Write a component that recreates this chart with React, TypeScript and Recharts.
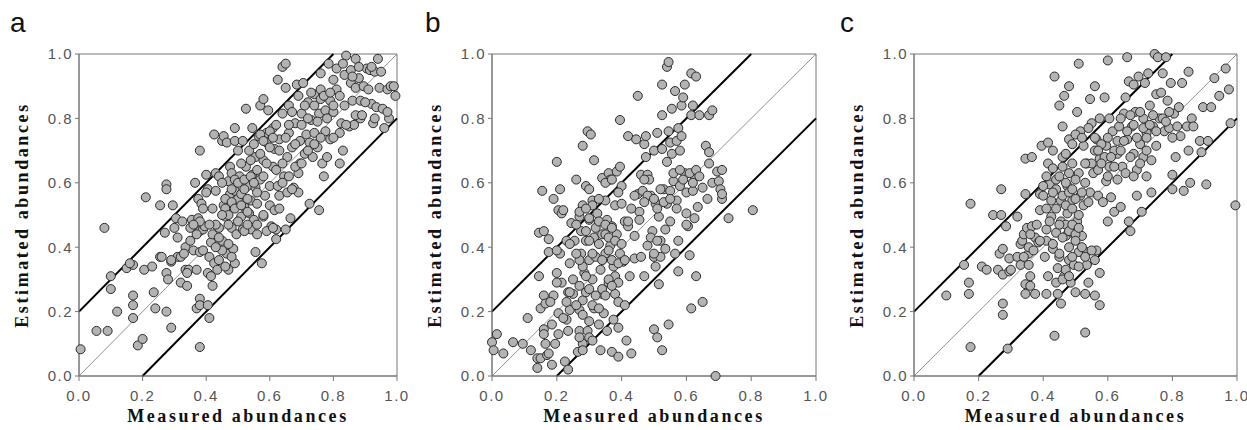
import { ScatterChart, Scatter, XAxis, YAxis, ZAxis, ReferenceLine, ReferenceArea } from "recharts";

const TICKS = [0, 0.2, 0.4, 0.6, 0.8, 1.0];
const X_TITLE = "Measured abundances";
const Y_TITLE = "Estimated abundances";

// [measured, estimated]
const panelA: [number, number][] = [
  [0.005, 0.083], [0.055, 0.14], [0.09, 0.14], [0.08, 0.46], [0.10, 0.31], [0.10, 0.27], [0.12, 0.20],
  [0.15, 0.335], [0.17, 0.345], [0.17, 0.25], [0.17, 0.22], [0.17, 0.18], [0.185, 0.095], [0.20, 0.115],
  [0.205, 0.33], [0.21, 0.555], [0.235, 0.26], [0.24, 0.21], [0.255, 0.37], [0.255, 0.53], [0.27, 0.445],
  [0.275, 0.32], [0.275, 0.20], [0.275, 0.595], [0.275, 0.58], [0.28, 0.30], [0.29, 0.15], [0.29, 0.355],
  [0.295, 0.53], [0.30, 0.46], [0.305, 0.49], [0.31, 0.37], [0.325, 0.48], [0.32, 0.29], [0.32, 0.37],
  [0.335, 0.40], [0.335, 0.33], [0.34, 0.28], [0.35, 0.46], [0.355, 0.485], [0.345, 0.33], [0.36, 0.39],
  [0.365, 0.60], [0.37, 0.21], [0.37, 0.33], [0.375, 0.49], [0.38, 0.09], [0.38, 0.24], [0.38, 0.22],
  [0.38, 0.45], [0.38, 0.385], [0.38, 0.70], [0.375, 0.55], [0.385, 0.535], [0.39, 0.455], [0.39, 0.39],
  [0.395, 0.465], [0.40, 0.625], [0.405, 0.58], [0.405, 0.22], [0.41, 0.18], [0.405, 0.32], [0.41, 0.37],
  [0.415, 0.415], [0.415, 0.31], [0.42, 0.28], [0.42, 0.44], [0.425, 0.75], [0.425, 0.35], [0.43, 0.575],
  [0.43, 0.63], [0.435, 0.33], [0.44, 0.46], [0.45, 0.73], [0.45, 0.42], [0.455, 0.745], [0.455, 0.53],
  [0.46, 0.495], [0.465, 0.725], [0.465, 0.38], [0.47, 0.33], [0.47, 0.605], [0.475, 0.565], [0.475, 0.65],
  [0.48, 0.63], [0.48, 0.46], [0.485, 0.525], [0.485, 0.395], [0.49, 0.35], [0.49, 0.77], [0.49, 0.73],
  [0.49, 0.575], [0.495, 0.44], [0.50, 0.70], [0.50, 0.55], [0.505, 0.62], [0.51, 0.495], [0.51, 0.565],
  [0.515, 0.73], [0.515, 0.455], [0.52, 0.525], [0.525, 0.83], [0.525, 0.65], [0.53, 0.59], [0.535, 0.505],
  [0.535, 0.70], [0.54, 0.545], [0.54, 0.455], [0.545, 0.77], [0.545, 0.625], [0.55, 0.485], [0.555, 0.68],
  [0.555, 0.585], [0.555, 0.385], [0.56, 0.535], [0.56, 0.44], [0.565, 0.745], [0.57, 0.84], [0.57, 0.61],
  [0.575, 0.35], [0.58, 0.495], [0.58, 0.86], [0.58, 0.67], [0.585, 0.56], [0.59, 0.755], [0.59, 0.725],
  [0.595, 0.825], [0.60, 0.53], [0.60, 0.59], [0.605, 0.465], [0.61, 0.77], [0.61, 0.65], [0.615, 0.705],
  [0.615, 0.515], [0.62, 0.455], [0.62, 0.425], [0.625, 0.59], [0.625, 0.92], [0.63, 0.56], [0.63, 0.735],
  [0.64, 0.96], [0.64, 0.815], [0.645, 0.62], [0.65, 0.455], [0.65, 0.97], [0.65, 0.895], [0.655, 0.68],
  [0.655, 0.57], [0.66, 0.755], [0.66, 0.84], [0.665, 0.49], [0.67, 0.71], [0.675, 0.585], [0.68, 0.785],
  [0.685, 0.905], [0.69, 0.87], [0.69, 0.57], [0.695, 0.66], [0.695, 0.73], [0.70, 0.815], [0.705, 0.91],
  [0.71, 0.69], [0.715, 0.75], [0.72, 0.85], [0.725, 0.725], [0.725, 0.535], [0.73, 0.795], [0.735, 0.68],
  [0.74, 0.875], [0.74, 0.755], [0.75, 0.71], [0.755, 0.815], [0.755, 0.515], [0.76, 0.94], [0.76, 0.89],
  [0.765, 0.66], [0.77, 0.62], [0.775, 0.76], [0.775, 0.825], [0.785, 0.97], [0.79, 0.855], [0.79, 0.735],
  [0.80, 0.92], [0.80, 0.82], [0.81, 0.89], [0.81, 0.955], [0.82, 0.755], [0.82, 0.66], [0.825, 0.785],
  [0.83, 0.70], [0.835, 0.935], [0.835, 0.84], [0.84, 0.995], [0.85, 0.775], [0.855, 0.95], [0.855, 0.91],
  [0.86, 0.855], [0.865, 0.78], [0.87, 0.985], [0.87, 0.895], [0.88, 0.925], [0.885, 0.855], [0.885, 0.80],
  [0.895, 0.90], [0.905, 0.955], [0.91, 0.89], [0.915, 0.95], [0.92, 0.845], [0.925, 0.785], [0.93, 0.945],
  [0.935, 0.835], [0.94, 0.985], [0.945, 0.895], [0.95, 0.945], [0.955, 0.83], [0.96, 0.77], [0.97, 0.89],
  [0.975, 0.80], [0.98, 0.90], [0.995, 0.87],
  [0.44, 0.62], [0.45, 0.60], [0.46, 0.55], [0.46, 0.52], [0.47, 0.50], [0.47, 0.47], [0.48, 0.54],
  [0.48, 0.58], [0.49, 0.61], [0.49, 0.52], [0.50, 0.48], [0.50, 0.60], [0.51, 0.53], [0.51, 0.66],
  [0.52, 0.58], [0.52, 0.61], [0.53, 0.55], [0.53, 0.51], [0.54, 0.62], [0.54, 0.67], [0.55, 0.60],
  [0.55, 0.72], [0.56, 0.64], [0.56, 0.57], [0.57, 0.69], [0.57, 0.75], [0.58, 0.73], [0.58, 0.62],
  [0.59, 0.66], [0.60, 0.71], [0.60, 0.76], [0.61, 0.74], [0.62, 0.78], [0.62, 0.64], [0.63, 0.70],
  [0.64, 0.66], [0.65, 0.74], [0.66, 0.78], [0.67, 0.82], [0.68, 0.72], [0.69, 0.63], [0.70, 0.78],
  [0.71, 0.84], [0.72, 0.80], [0.73, 0.88], [0.74, 0.84], [0.75, 0.79], [0.76, 0.86], [0.77, 0.87],
  [0.78, 0.80], [0.79, 0.88], [0.80, 0.84], [0.82, 0.87], [0.83, 0.97], [0.86, 0.93], [0.88, 0.96],
  [0.90, 0.85], [0.92, 0.96], [0.43, 0.47], [0.44, 0.43], [0.45, 0.50], [0.45, 0.39], [0.46, 0.34],
  [0.47, 0.41], [0.48, 0.37], [0.44, 0.36], [0.43, 0.40], [0.42, 0.52], [0.41, 0.47], [0.40, 0.57],
  [0.39, 0.52], [0.38, 0.48], [0.37, 0.44], [0.36, 0.47], [0.35, 0.42], [0.33, 0.38], [0.34, 0.32],
  [0.31, 0.43], [0.29, 0.36], [0.26, 0.37], [0.23, 0.34], [0.16, 0.35], [0.52, 0.45], [0.53, 0.47],
  [0.56, 0.47], [0.58, 0.50], [0.59, 0.45], [0.61, 0.46], [0.63, 0.52], [0.64, 0.60], [0.66, 0.62],
  [0.67, 0.58], [0.68, 0.65], [0.70, 0.66], [0.72, 0.70], [0.74, 0.72], [0.76, 0.74], [0.78, 0.68],
  [0.80, 0.74], [0.84, 0.78], [0.87, 0.81], [0.89, 0.81], [0.93, 0.80], [0.97, 0.82], [0.99, 0.90],
];

const panelB: [number, number][] = [
  [0.0, 0.105], [0.005, 0.08], [0.015, 0.13], [0.035, 0.07], [0.065, 0.105], [0.095, 0.10], [0.11, 0.18],
  [0.12, 0.08], [0.14, 0.055], [0.14, 0.025], [0.15, 0.055], [0.145, 0.445], [0.145, 0.31], [0.15, 0.21],
  [0.155, 0.575], [0.16, 0.45], [0.16, 0.25], [0.16, 0.145], [0.16, 0.13], [0.165, 0.10], [0.165, 0.225],
  [0.17, 0.065], [0.175, 0.425], [0.175, 0.385], [0.175, 0.07], [0.185, 0.035], [0.185, 0.16], [0.19, 0.55],
  [0.19, 0.25], [0.195, 0.10], [0.20, 0.32], [0.20, 0.665], [0.205, 0.195], [0.205, 0.13], [0.205, 0.515],
  [0.21, 0.58], [0.21, 0.38], [0.215, 0.29], [0.215, 0.505], [0.22, 0.515], [0.225, 0.045], [0.23, 0.42],
  [0.23, 0.175], [0.235, 0.26], [0.235, 0.02], [0.235, 0.14], [0.24, 0.35], [0.24, 0.205], [0.245, 0.475],
  [0.25, 0.255], [0.255, 0.42], [0.26, 0.61], [0.265, 0.075], [0.27, 0.14], [0.27, 0.28], [0.27, 0.495],
  [0.27, 0.205], [0.275, 0.38], [0.275, 0.45], [0.28, 0.10], [0.28, 0.235], [0.28, 0.715], [0.28, 0.53],
  [0.285, 0.32], [0.29, 0.42], [0.29, 0.26], [0.29, 0.59], [0.295, 0.76], [0.295, 0.14], [0.30, 0.36],
  [0.30, 0.485], [0.30, 0.12], [0.305, 0.75], [0.31, 0.545], [0.31, 0.30], [0.31, 0.11], [0.315, 0.21],
  [0.315, 0.67], [0.315, 0.43], [0.32, 0.37], [0.325, 0.505], [0.33, 0.16], [0.335, 0.33], [0.335, 0.08],
  [0.34, 0.615], [0.34, 0.44], [0.34, 0.255], [0.345, 0.195], [0.35, 0.545], [0.35, 0.38], [0.355, 0.485],
  [0.355, 0.14], [0.36, 0.63], [0.36, 0.29], [0.365, 0.405], [0.365, 0.61], [0.37, 0.465], [0.37, 0.075],
  [0.375, 0.175], [0.375, 0.34], [0.38, 0.53], [0.38, 0.255], [0.385, 0.44], [0.385, 0.635], [0.39, 0.06],
  [0.39, 0.23], [0.39, 0.15], [0.395, 0.795], [0.395, 0.38], [0.395, 0.65], [0.40, 0.59], [0.40, 0.535],
  [0.405, 0.355], [0.41, 0.22], [0.41, 0.48], [0.415, 0.11], [0.42, 0.745], [0.42, 0.465], [0.425, 0.31],
  [0.43, 0.07], [0.44, 0.435], [0.44, 0.365], [0.445, 0.735], [0.45, 0.87], [0.45, 0.565], [0.455, 0.51],
  [0.455, 0.485], [0.46, 0.37], [0.46, 0.625], [0.465, 0.575], [0.47, 0.31], [0.47, 0.72], [0.475, 0.745],
  [0.475, 0.68], [0.48, 0.405], [0.48, 0.625], [0.485, 0.61], [0.49, 0.56], [0.495, 0.45], [0.50, 0.145],
  [0.50, 0.37], [0.50, 0.70], [0.505, 0.535], [0.505, 0.34], [0.51, 0.755], [0.51, 0.12], [0.515, 0.285],
  [0.515, 0.495], [0.52, 0.37], [0.52, 0.42], [0.525, 0.81], [0.525, 0.905], [0.525, 0.08], [0.525, 0.705],
  [0.53, 0.58], [0.535, 0.455], [0.535, 0.395], [0.54, 0.665], [0.54, 0.535], [0.54, 0.96], [0.545, 0.975],
  [0.545, 0.76], [0.545, 0.16], [0.55, 0.725], [0.55, 0.575], [0.55, 0.48], [0.555, 0.83], [0.555, 0.69],
  [0.56, 0.605], [0.565, 0.885], [0.565, 0.38], [0.57, 0.73], [0.57, 0.545], [0.575, 0.77], [0.575, 0.42],
  [0.575, 0.325], [0.58, 0.70], [0.58, 0.59], [0.585, 0.745], [0.585, 0.84], [0.59, 0.865], [0.595, 0.63],
  [0.595, 0.905], [0.60, 0.505], [0.60, 0.57], [0.605, 0.465], [0.61, 0.375], [0.615, 0.94], [0.615, 0.81],
  [0.615, 0.21], [0.62, 0.575], [0.62, 0.84], [0.625, 0.49], [0.625, 0.62], [0.63, 0.93], [0.63, 0.31],
  [0.635, 0.525], [0.64, 0.81], [0.65, 0.585], [0.65, 0.23], [0.66, 0.715], [0.665, 0.55], [0.67, 0.81],
  [0.67, 0.695], [0.67, 0.66], [0.68, 0.60], [0.68, 0.825], [0.69, 0.0], [0.695, 0.635], [0.70, 0.605],
  [0.705, 0.58], [0.71, 0.55], [0.71, 0.64], [0.71, 0.565], [0.73, 0.49], [0.805, 0.515],
  [0.29, 0.45], [0.30, 0.42], [0.31, 0.38], [0.32, 0.46], [0.33, 0.48], [0.33, 0.41], [0.34, 0.36],
  [0.35, 0.44], [0.35, 0.47], [0.36, 0.43], [0.36, 0.39], [0.37, 0.46], [0.37, 0.36], [0.38, 0.42],
  [0.38, 0.31], [0.39, 0.29], [0.36, 0.30], [0.34, 0.27], [0.32, 0.25], [0.30, 0.27], [0.29, 0.31],
  [0.28, 0.34], [0.27, 0.36], [0.26, 0.38], [0.25, 0.30], [0.24, 0.26], [0.23, 0.23], [0.22, 0.18],
  [0.27, 0.12], [0.28, 0.08], [0.31, 0.22], [0.33, 0.21], [0.35, 0.25], [0.37, 0.28], [0.39, 0.35],
  [0.41, 0.36], [0.40, 0.41], [0.42, 0.48], [0.43, 0.52], [0.30, 0.58], [0.31, 0.53], [0.33, 0.55],
  [0.35, 0.60], [0.37, 0.61], [0.39, 0.57], [0.44, 0.56], [0.47, 0.61], [0.48, 0.56], [0.50, 0.55],
  [0.51, 0.52], [0.52, 0.58], [0.53, 0.54], [0.55, 0.55], [0.56, 0.63], [0.58, 0.64], [0.59, 0.61],
  [0.61, 0.63], [0.62, 0.60], [0.63, 0.64], [0.64, 0.62], [0.57, 0.52], [0.60, 0.47], [0.49, 0.43],
  [0.50, 0.38], [0.51, 0.42], [0.47, 0.54], [0.26, 0.22], [0.28, 0.19], [0.30, 0.17], [0.20, 0.29],
  [0.18, 0.23], [0.20, 0.39], [0.24, 0.41], [0.26, 0.47], [0.27, 0.51], [0.29, 0.52], [0.30, 0.49],
];

const panelC: [number, number][] = [
  [0.10, 0.25], [0.155, 0.345], [0.175, 0.09], [0.17, 0.29], [0.17, 0.255], [0.175, 0.535], [0.21, 0.34],
  [0.225, 0.33], [0.245, 0.50], [0.26, 0.33], [0.265, 0.38], [0.27, 0.50], [0.27, 0.58], [0.275, 0.315],
  [0.275, 0.225], [0.275, 0.19], [0.275, 0.395], [0.285, 0.465], [0.29, 0.085], [0.295, 0.365],
  [0.295, 0.325], [0.30, 0.33], [0.32, 0.495], [0.32, 0.37], [0.33, 0.41], [0.33, 0.345], [0.335, 0.42],
  [0.34, 0.44], [0.345, 0.675], [0.345, 0.285], [0.345, 0.255], [0.345, 0.565], [0.35, 0.46], [0.355, 0.38],
  [0.355, 0.40], [0.355, 0.345], [0.36, 0.31], [0.36, 0.28], [0.365, 0.68], [0.365, 0.465], [0.375, 0.255],
  [0.375, 0.43], [0.385, 0.415], [0.39, 0.565], [0.39, 0.515], [0.395, 0.715], [0.40, 0.56], [0.405, 0.37],
  [0.41, 0.255], [0.41, 0.455], [0.41, 0.42], [0.415, 0.725], [0.415, 0.66], [0.415, 0.31], [0.42, 0.595],
  [0.425, 0.545], [0.425, 0.495], [0.43, 0.70], [0.43, 0.395], [0.43, 0.645], [0.435, 0.93], [0.435, 0.125],
  [0.44, 0.29], [0.44, 0.61], [0.44, 0.445], [0.445, 0.335], [0.445, 0.255], [0.45, 0.37], [0.45, 0.84],
  [0.455, 0.225], [0.455, 0.545], [0.455, 0.48], [0.46, 0.68], [0.46, 0.775], [0.465, 0.87], [0.465, 0.31],
  [0.47, 0.435], [0.475, 0.59], [0.475, 0.505], [0.48, 0.36], [0.48, 0.90], [0.48, 0.735], [0.485, 0.29],
  [0.49, 0.66], [0.49, 0.545], [0.495, 0.44], [0.495, 0.345], [0.50, 0.26], [0.505, 0.82], [0.505, 0.48],
  [0.51, 0.385], [0.51, 0.97], [0.51, 0.63], [0.515, 0.76], [0.515, 0.56], [0.52, 0.435], [0.525, 0.715],
  [0.525, 0.53], [0.53, 0.255], [0.53, 0.135], [0.535, 0.345], [0.535, 0.66], [0.535, 0.385], [0.545, 0.86],
  [0.545, 0.57], [0.55, 0.785], [0.555, 0.63], [0.56, 0.25], [0.56, 0.90], [0.565, 0.39], [0.565, 0.735],
  [0.57, 0.56], [0.575, 0.80], [0.575, 0.32], [0.575, 0.22], [0.575, 0.675], [0.585, 0.54], [0.59, 0.865],
  [0.595, 0.715], [0.595, 0.605], [0.60, 0.98], [0.60, 0.48], [0.605, 0.80], [0.605, 0.65], [0.61, 0.555],
  [0.615, 0.76], [0.62, 0.51], [0.63, 0.69], [0.63, 0.61], [0.635, 0.775], [0.64, 0.525], [0.645, 0.65],
  [0.65, 0.815], [0.655, 0.865], [0.655, 0.63], [0.66, 0.99], [0.66, 0.735], [0.665, 0.915], [0.665, 0.48],
  [0.67, 0.45], [0.675, 0.775], [0.68, 0.69], [0.68, 0.905], [0.685, 0.82], [0.69, 0.64], [0.69, 0.56],
  [0.695, 0.93], [0.70, 0.72], [0.705, 0.51], [0.71, 0.80], [0.71, 0.68], [0.715, 0.91], [0.72, 0.62],
  [0.72, 0.755], [0.725, 0.94], [0.73, 0.84], [0.735, 0.67], [0.735, 0.57], [0.74, 0.775], [0.745, 1.0],
  [0.75, 0.875], [0.75, 0.715], [0.755, 0.99], [0.76, 0.80], [0.765, 0.88], [0.77, 0.94], [0.775, 0.76],
  [0.78, 0.99], [0.785, 0.855], [0.79, 0.77], [0.795, 0.91], [0.80, 0.58], [0.80, 0.625], [0.805, 0.815],
  [0.81, 0.68], [0.815, 0.775], [0.82, 0.835], [0.825, 0.745], [0.83, 0.91], [0.835, 0.575], [0.845, 0.775],
  [0.85, 0.945], [0.85, 0.70], [0.855, 0.60], [0.86, 0.80], [0.865, 0.775], [0.885, 0.73], [0.89, 0.695],
  [0.895, 0.835], [0.905, 0.595], [0.91, 0.73], [0.92, 0.835], [0.93, 0.925], [0.945, 0.87], [0.965, 0.955],
  [0.975, 0.89], [0.98, 0.785], [0.995, 0.53],
  [0.44, 0.58], [0.45, 0.62], [0.46, 0.56], [0.47, 0.60], [0.47, 0.53], [0.48, 0.57], [0.48, 0.63],
  [0.49, 0.52], [0.49, 0.58], [0.50, 0.61], [0.50, 0.55], [0.51, 0.50], [0.52, 0.57], [0.53, 0.60],
  [0.54, 0.54], [0.55, 0.66], [0.56, 0.70], [0.57, 0.64], [0.58, 0.72], [0.59, 0.68], [0.60, 0.74],
  [0.62, 0.70], [0.63, 0.73], [0.64, 0.80], [0.66, 0.76], [0.67, 0.81], [0.68, 0.78], [0.69, 0.74],
  [0.70, 0.82], [0.71, 0.77], [0.72, 0.70], [0.73, 0.78], [0.74, 0.81], [0.75, 0.76], [0.77, 0.80],
  [0.78, 0.79], [0.79, 0.82], [0.80, 0.74], [0.46, 0.43], [0.47, 0.47], [0.48, 0.45], [0.48, 0.40],
  [0.49, 0.47], [0.50, 0.44], [0.50, 0.42], [0.51, 0.46], [0.52, 0.40], [0.49, 0.37], [0.47, 0.33],
  [0.46, 0.30], [0.48, 0.31], [0.51, 0.34], [0.53, 0.37], [0.55, 0.39], [0.56, 0.36], [0.54, 0.29],
  [0.45, 0.38], [0.43, 0.41], [0.42, 0.48], [0.41, 0.52], [0.40, 0.59], [0.41, 0.62], [0.43, 0.57],
  [0.44, 0.52], [0.45, 0.47], [0.46, 0.65], [0.47, 0.69], [0.49, 0.72], [0.50, 0.75], [0.52, 0.74],
  [0.53, 0.66], [0.54, 0.77], [0.56, 0.74], [0.57, 0.70], [0.58, 0.66], [0.60, 0.62], [0.61, 0.68],
  [0.62, 0.65], [0.64, 0.70], [0.65, 0.73], [0.67, 0.68], [0.68, 0.62], [0.70, 0.66], [0.72, 0.74],
  [0.39, 0.42], [0.37, 0.39], [0.36, 0.44], [0.34, 0.37], [0.38, 0.47],
];

const fmt = (v: number) => v.toFixed(1);
const tickStyle = { fill: "#555", fontSize: 15, letterSpacing: 1.5, fontFamily: "Liberation Sans, Arial, sans-serif" };
const titleStyle = { fontFamily: "Liberation Serif, Times New Roman, serif", fontWeight: 700, fontSize: 18, letterSpacing: 2.6, fill: "#111" };

const PLOT_TOP = 54;
const PLOT_H = 322;
const X_AXIS_H = 430 - PLOT_TOP - PLOT_H;

function Panel({ points, left, yAxisWidth, plotWidth, letter }: { points: [number, number][]; left: number; yAxisWidth: number; plotWidth: number; letter: string }) {
  const data = points.map(([x, y]) => ({ x, y }));
  const right = 12;
  const width = yAxisWidth + plotWidth + right;
  const cx = yAxisWidth + plotWidth / 2;
  const cy = PLOT_TOP + PLOT_H / 2;
  return (
    <div style={{ position: "absolute", left, top: 0, width, height: 430 }}>
      <div style={{ position: "absolute", left: 10, top: 9, fontSize: 28, lineHeight: "28px", fontFamily: "Liberation Sans, Arial, sans-serif", color: "#111" }}>
        {letter}
      </div>
      <ScatterChart width={width} height={430} margin={{ top: PLOT_TOP, right, bottom: 0, left: 0 }}>
        <XAxis
          type="number"
          dataKey="x"
          domain={[0, 1]}
          ticks={TICKS}
          tickFormatter={fmt}
          height={X_AXIS_H}
          tickSize={5}
          tickMargin={9}
          tick={tickStyle}
          stroke="#777"
          label={{
            content: () => (
              <text x={cx} y={PLOT_TOP + PLOT_H + 46} textAnchor="middle" style={titleStyle}>
                {X_TITLE}
              </text>
            ),
          }}
        />
        <YAxis
          type="number"
          dataKey="y"
          domain={[0, 1]}
          ticks={TICKS}
          tickFormatter={fmt}
          width={yAxisWidth}
          tickSize={4}
          tickMargin={2}
          tick={tickStyle}
          stroke="#777"
          label={{
            content: () => (
              <text x={yAxisWidth - 51} y={cy} textAnchor="middle" transform={`rotate(-90 ${yAxisWidth - 51} ${cy})`} style={titleStyle}>
                {Y_TITLE}
              </text>
            ),
          }}
        />
        <ZAxis range={[36, 36]} />
        <ReferenceArea x1={0} x2={1} y1={0} y2={1} fill="none" stroke="#777" strokeWidth={1} />
        <ReferenceLine segment={[{ x: 0, y: 0 }, { x: 1, y: 1 }]} stroke="#777" strokeWidth={0.8} />
        <Scatter data={data} fill="#b3b3b3" stroke="#2b2b2b" strokeWidth={1} isAnimationActive={false} />
        <ReferenceLine segment={[{ x: 0, y: 0.2 }, { x: 0.8, y: 1 }]} stroke="#000" strokeWidth={2} />
        <ReferenceLine segment={[{ x: 0.2, y: 0 }, { x: 1, y: 0.8 }]} stroke="#000" strokeWidth={2} />
      </ScatterChart>
    </div>
  );
}

export default function App() {
  return (
    <div style={{ position: "absolute", left: 0, top: 0, width: 1247, height: 430, background: "#fff" }}>
      <Panel points={panelA} left={0} yAxisWidth={79} plotWidth={318} letter="a" />
      <Panel points={panelB} left={415} yAxisWidth={77} plotWidth={324} letter="b" />
      <Panel points={panelC} left={830} yAxisWidth={84} plotWidth={323} letter="c" />
    </div>
  );
}
